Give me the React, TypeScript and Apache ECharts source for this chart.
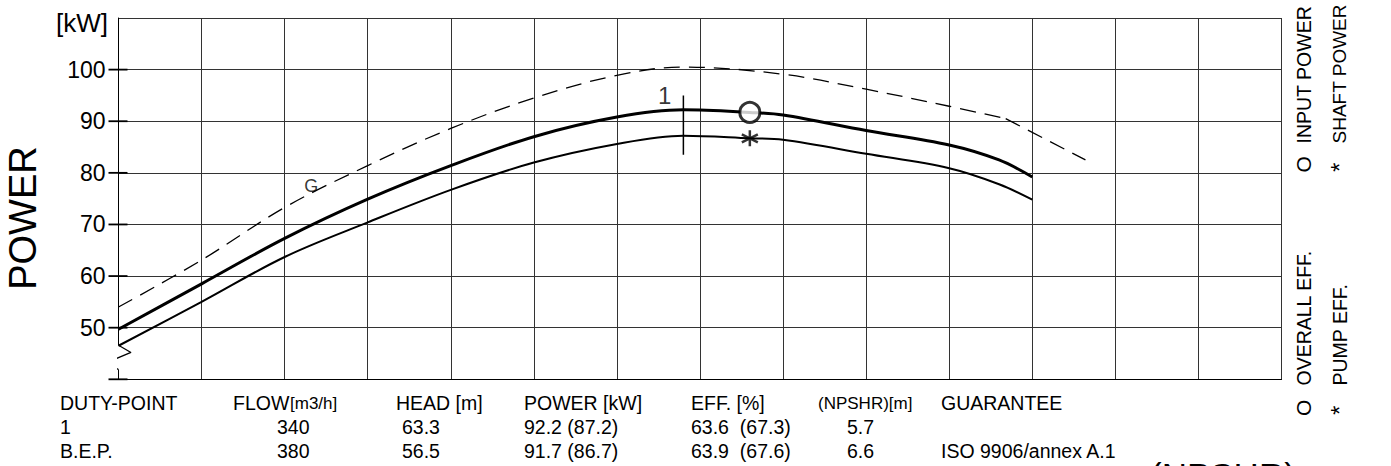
import React, { useEffect, useRef } from 'react';
import * as echarts from 'echarts';

// ---------- data ----------
const FLOW_MIN = 0;
const FLOW_MAX = 700;
const FLOW_STEP = 50;
const POWER_MIN = 40;
const POWER_MAX = 110;
const POWER_STEP = 10;
const yTickValues = [40, 50, 60, 70, 80, 90, 100];
const yLabelValues = [50, 60, 70, 80, 90, 100];

// input power (thick)
const inputFlow = [0, 50, 100, 150, 200, 250, 300, 340, 380, 400, 450, 500, 530, 550];
const inputPower = [49.7, 58.5, 67.3, 74.9, 81.4, 87.0, 90.8, 92.2, 91.7, 91.2, 88.2, 85.4, 82.5, 79.2];

// shaft power (thin)
const shaftFlow = [0, 50, 100, 150, 200, 250, 300, 340, 380, 400, 450, 500, 530, 550];
const shaftPower = [46.5, 55.0, 63.7, 70.4, 76.7, 82.0, 85.6, 87.2, 86.7, 86.4, 83.7, 80.9, 77.8, 74.8];

// guarantee curve G (dashed)
const guaranteeFlow = [0, 50, 100, 150, 200, 250, 300, 340, 400, 450, 500, 534];
const guaranteePower = [54.0, 63.1, 73.3, 81.4, 88.6, 94.5, 98.9, 100.5, 99.1, 96.2, 92.9, 90.5];
const guaranteeTailFlow = [534, 582];
const guaranteeTailPower = [90.5, 82.5];

// duty point / B.E.P. table
const pointNames = ['1', 'B.E.P.'];
const pointFlow = [340, 380];
const pointHead = [63.3, 56.5];
const pointInputPower = [92.2, 91.7];
const pointShaftPower = [87.2, 86.7];
const pointOverallEff = [63.6, 63.9];
const pointPumpEff = [67.3, 67.6];
const pointNpshr = [5.7, 6.6];
const pointGuarantee = ['', 'ISO 9906/annex A.1'];

const tableHeaders = ['DUTY-POINT', 'FLOW', 'HEAD [m]', 'POWER [kW]', 'EFF. [%]', '(NPSHR)[m]', 'GUARANTEE'];

// axis-break zigzag (flow offsets / power levels)
const breakFlow = [0, 7.5, -7.6, 0];
const breakPower = [46.6, 45.2, 43.2, 41.9];

// ---------- layout ----------
const FONT = '"Liberation Sans", Arial, Helvetica, sans-serif';
const DUTY_TICK = [83.5, 95];
const G_LABEL_AT = [116, 77.5];
const headerX = [60, 233, 396, 524, 691, 818, 941];
const valueX = [60, 277, 402, 524, 691, 847, 941];
const rowY = [403, 427, 451];

const pairs = (xs: number[], ys: number[]) => xs.map((x, i) => [x, ys[i]]);

const App: React.FC = () => {
  const ref = useRef<HTMLDivElement>(null);

  useEffect(() => {
    if (!ref.current) return;
    const chart = echarts.init(ref.current, null, { renderer: 'svg' });

    const txt = (text: string, x: number, y: number, size: number, extra: any = {}) => ({
      type: 'text',
      x,
      y,
      silent: true,
      ...extra,
      style: {
        text,
        fill: '#000',
        fontSize: size,
        fontFamily: FONT,
        align: 'left',
        verticalAlign: 'middle',
        ...(extra.style || {}),
      },
    });

    const rows = pointNames.map((name, i) => [
      name,
      String(pointFlow[i]),
      pointHead[i].toFixed(1),
      `${pointInputPower[i].toFixed(1)} (${pointShaftPower[i].toFixed(1)})`,
      `${pointOverallEff[i].toFixed(1)}  (${pointPumpEff[i].toFixed(1)})`,
      pointNpshr[i].toFixed(1),
      pointGuarantee[i],
    ]);

    const graphics: any[] = [];
    graphics.push(txt('POWER', 22.5, 218, 38, { rotation: Math.PI / 2, style: { align: 'center' } }));
    graphics.push(txt('[kW]', 108, 23, 26, { style: { align: 'right' } }));
    tableHeaders.forEach((h, c) => {
      const size = c === 5 ? 17 : 19.5;
      graphics.push(txt(h, headerX[c], rowY[0], size));
    });
    graphics.push(txt('[m3/h]', 290, rowY[0], 17));
    rows.forEach((r, ri) => {
      r.forEach((cell, c) => {
        if (cell) graphics.push(txt(cell, valueX[c], rowY[ri + 1], 19.5));
      });
    });
    graphics.push(txt('(NPSHR)', 1150, 475, 35));
    const rot = { rotation: Math.PI / 2 };
    graphics.push(txt('O', 1303.8, 172.5, 21, rot));
    graphics.push(txt('INPUT POWER', 1303.8, 143.5, 19.5, rot));
    graphics.push(txt('*', 1339.7, 172, 24, rot));
    graphics.push(txt('SHAFT POWER', 1339.7, 143.5, 19, rot));
    graphics.push(txt('O', 1303.8, 416, 21, rot));
    graphics.push(txt('OVERALL EFF.', 1303.8, 385.5, 19.5, rot));
    graphics.push(txt('*', 1339.7, 415, 24, rot));
    graphics.push(txt('PUMP EFF.', 1339.7, 385.5, 19.5, rot));

    const asteriskPath = 'path://M8 0 L8 16 M1.07 4 L14.93 12 M1.07 12 L14.93 4';

    const option: any = {
      animation: false,
      grid: { left: 118.5, right: 109.5, top: 18, bottom: 86.7, containLabel: false },
      xAxis: {
        type: 'value',
        min: FLOW_MIN,
        max: FLOW_MAX,
        interval: FLOW_STEP,
        axisLine: { show: true, onZero: false, lineStyle: { color: '#000', width: 1 } },
        axisTick: { show: false },
        axisLabel: { show: false },
        splitLine: { show: true, lineStyle: { color: '#333', width: 1 } },
      },
      yAxis: {
        type: 'value',
        min: POWER_MIN,
        max: POWER_MAX,
        interval: POWER_STEP,
        axisLine: { show: true, onZero: false, lineStyle: { color: '#000', width: 1 } },
        axisTick: { show: false },
        axisLabel: {
          show: true,
          margin: 13,
          fontSize: 23,
          fontFamily: FONT,
          color: '#000',
          formatter: (v: number) => (yLabelValues.includes(v) ? String(v) : ''),
        },
        splitLine: { show: true, lineStyle: { color: '#333', width: 1 } },
      },
      series: [
        {
          name: 'yTicks',
          type: 'custom',
          clip: false,
          silent: true,
          z: 4,
          data: yTickValues.map((v) => [FLOW_MIN, v]),
          renderItem: (params: any, api: any) => {
            const p = api.coord([api.value(0), api.value(1)]);
            return {
              type: 'line',
              shape: { x1: p[0] - 10, y1: p[1], x2: p[0] + 9, y2: p[1] },
              style: { stroke: '#000', lineWidth: 1.8 },
            };
          },
        },
        {
          name: 'axisBreakMask',
          type: 'line',
          data: [
            [breakFlow[0], breakPower[0]],
            [breakFlow[3], breakPower[3]],
          ],
          symbol: 'none',
          clip: false,
          silent: true,
          lineStyle: { color: '#fff', width: 4 },
        },
        {
          name: 'axisBreak',
          type: 'line',
          data: pairs(breakFlow, breakPower),
          symbol: 'none',
          clip: false,
          silent: true,
          lineStyle: { color: '#000', width: 1.3 },
        },
        {
          name: 'G',
          type: 'line',
          data: pairs(guaranteeFlow, guaranteePower),
          smooth: 0.35,
          symbol: 'none',
          silent: true,
          lineStyle: { color: '#000', width: 1.3, type: [16, 9] },
        },
        {
          name: 'G tail',
          type: 'line',
          data: pairs(guaranteeTailFlow, guaranteeTailPower),
          symbol: 'none',
          silent: true,
          lineStyle: { color: '#000', width: 1.3, type: [16, 9] },
        },
        {
          name: 'Shaft power',
          type: 'line',
          data: pairs(shaftFlow, shaftPower),
          smooth: 0.35,
          symbol: 'none',
          silent: true,
          lineStyle: { color: '#000', width: 2 },
        },
        {
          name: 'Input power',
          type: 'line',
          data: pairs(inputFlow, inputPower),
          smooth: 0.35,
          symbol: 'none',
          silent: true,
          lineStyle: { color: '#000', width: 3 },
        },
        {
          name: 'Duty tick',
          type: 'line',
          data: [
            [pointFlow[0], DUTY_TICK[0]],
            [pointFlow[0], DUTY_TICK[1]],
          ],
          symbol: 'none',
          silent: true,
          lineStyle: { color: '#000', width: 1.5 },
        },
        {
          name: 'labels',
          type: 'scatter',
          silent: true,
          symbolSize: 0,
          data: [
            { value: [pointFlow[0], DUTY_TICK[1]], label: { show: true, formatter: pointNames[0], position: 'left', distance: 12, fontSize: 24, fontFamily: FONT, color: '#000' } },
            { value: G_LABEL_AT, label: { show: true, formatter: 'G', position: 'inside', fontSize: 18, fontFamily: FONT, color: '#000' } },
          ],
        },
        {
          name: 'Input power mark',
          type: 'scatter',
          silent: true,
          z: 5,
          symbol: 'circle',
          symbolSize: 20,
          data: [[pointFlow[1], pointInputPower[1]]],
          itemStyle: { color: '#fff', borderColor: '#000', borderWidth: 3 },
        },
        {
          name: 'Shaft power mark',
          type: 'scatter',
          silent: true,
          z: 5,
          symbol: asteriskPath,
          symbolSize: 16,
          data: [[pointFlow[1], pointShaftPower[1]]],
          itemStyle: { color: '#000', borderColor: '#000', borderWidth: 2.5 },
        },
      ],
      graphic: graphics,
    };

    chart.setOption(option);
    return () => chart.dispose();
  }, []);

  return (
    <div
      ref={ref}
      style={{ position: 'fixed', left: 0, top: 0, width: 1391, height: 466, background: '#fff' }}
    />
  );
};

export default App;
